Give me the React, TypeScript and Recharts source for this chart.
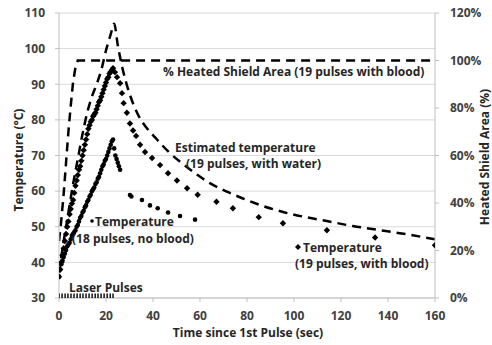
import React from "react";
import { ComposedChart, Line, Scatter, XAxis, YAxis, CartesianGrid } from "recharts";

// time (sec) vs temperature (°C), 19 pulses with blood (diamonds)
const bloodTemp: [number, number][] = [
  [0, 36], [0.5, 38], [1, 40], [1.5, 42], [2, 44], [2.5, 46], [3, 48], [3.5, 50], [4, 51.5], [4.5, 53.5],
  [5, 55], [5.5, 56.5], [6, 57.5], [6.5, 59.5], [7, 61.5], [7.5, 63], [8, 64.5], [8.5, 66], [9, 67], [9.5, 68.5],
  [10, 70], [10.5, 71.5], [11, 73], [11.5, 74.5], [12, 76], [12.5, 77.5], [13, 78.5], [13.5, 79.5], [14, 80],
  [14.5, 81], [15, 81.5], [15.5, 82], [16, 83], [16.5, 84], [17, 85], [17.5, 85.5], [18, 86.5], [18.5, 87.5],
  [19, 88.5], [19.5, 89.5], [20, 90.5], [20.5, 91.5], [21, 92], [21.5, 93], [22, 93.5], [22.5, 94], [23, 94.5],
  [23.8, 93.4], [24.7, 92], [26, 90.3], [26.8, 87.5], [27.5, 84.7], [28.9, 82], [30.2, 79], [31.5, 77],
  [32.8, 75.5], [34.5, 73], [36.6, 71], [39.6, 69.3], [43, 67.3], [46.4, 65], [50.2, 63], [54.5, 60.8],
  [59, 59], [67, 57], [74, 55.2], [85, 52.7], [95.3, 51], [114, 49], [134.5, 47], [160, 44.8],
];

// 18 pulses, no blood (small dots)
const noBloodTemp: [number, number][] = [
  [0, 36], [0.5, 38], [1, 39.5], [1.5, 40.5], [2, 41.5], [2.5, 42.5], [3, 43.5], [3.5, 44.5], [4, 45],
  [4.5, 45.5], [5, 46.5], [5.5, 47.5], [6, 48], [6.5, 48.5], [7, 49], [7.5, 50], [8, 50.5], [8.5, 51.5],
  [9, 52.5], [9.5, 53], [10, 54], [10.5, 54.5], [11, 55.5], [11.5, 56], [12, 57], [12.5, 57.5], [13, 58.5],
  [13.5, 59], [14, 60], [14.5, 60.5], [15, 61], [15.5, 62], [16, 62.5], [16.5, 63.5], [17, 64], [17.5, 65],
  [18, 66], [18.5, 67], [19, 67.5], [19.5, 68.5], [20, 69], [20.5, 70], [21, 71], [21.5, 72], [22, 73],
  [22.5, 74], [23, 74.5], [23.5, 72], [24, 70], [24.5, 69], [25, 68], [25.5, 67], [26, 66],
  [30.2, 58.9], [30.8, 58.5], [35.3, 57.5], [38.7, 56], [42, 55.2], [46.4, 54], [51.5, 53], [57.9, 52],
];

// estimated temperature, 19 pulses with water (dashed)
const waterTemp: [number, number][] = [
  [0, 37], [2, 46], [4, 54], [6, 62], [8, 69], [10, 76], [12, 82], [14, 86.5], [16, 90], [18, 94],
  [20, 99.5], [22, 104], [23.5, 107], [25, 101], [27, 94.5], [29, 89.5], [31, 85.5], [34, 81], [37, 78],
  [41, 75], [47, 70.8], [52, 68], [59, 64.5], [64, 62.3], [72, 59.7], [78, 58], [86, 56], [95, 54.2],
  [105, 52.7], [114, 51.6], [125, 50.2], [135, 49.2], [145, 48.2], [160, 46.5],
];

// % heated shield area (right axis)
const heatedArea: [number, number][] = [
  [0, 24], [1, 33], [2, 44], [3, 57], [4, 70], [5, 81], [6, 91], [7, 97], [8, 100], [160, 100],
];

// laser pulse times (sec)
const pulseTimes = [0, 1.3, 2.6, 3.8, 5.1, 6.4, 7.7, 9, 10.2, 11.5, 12.8, 14.1, 15.4, 16.6, 17.9, 19.2, 20.5, 21.8, 23];

const xTicks = [0, 20, 40, 60, 80, 100, 120, 140, 160];
const tempTicks = [30, 40, 50, 60, 70, 80, 90, 100, 110];
const areaTicks = [0, 20, 40, 60, 80, 100, 120];

const toPts = (arr: [number, number][]) => arr.map(([t, v]) => ({ t, v }));

const FONT = "'Open Sans', Lato, sans-serif";
const TXT = "#262626";
const tickStyle = { fontSize: 12, fontWeight: 700, fill: "#404040", fontFamily: FONT };

const Diamond = (p: any) => {
  const { cx, cy } = p;
  if (cx == null || cy == null) return <g />;
  const s = 3.2;
  return <path d={`M${cx},${cy - s}L${cx + s},${cy}L${cx},${cy + s}L${cx - s},${cy}Z`} fill="#000" />;
};

const Dot = (p: any) => {
  const { cx, cy } = p;
  if (cx == null || cy == null) return <g />;
  return <circle cx={cx} cy={cy} r={2.3} fill="#000" />;
};

const PulseMark = (p: any) => {
  const { cx, cy } = p;
  if (cx == null || cy == null) return <g />;
  return <line x1={cx} x2={cx} y1={cy - 4.5} y2={cy + 4.5} stroke="#111" strokeWidth={1.5} />;
};

const Annotations = () => (
  <svg width={492} height={345} style={{ position: "absolute", left: 0, top: 0, pointerEvents: "none" }}>
    <g fontFamily={FONT} fontWeight={700} fontSize={12} fill={TXT} dominantBaseline="central">
      <text x={163} y={71}>% Heated Shield Area (19 pulses with blood)</text>
      <text x={175} y={147}>Estimated temperature</text>
      <text x={186} y={163}>(19 pulses, with water)</text>
      <circle cx={92} cy={221} r={1.8} fill="#000" />
      <text x={95} y={221}>Temperature</text>
      <text x={72} y={238}>(18 pulses, no blood)</text>
      <path d="M298,244L301,247L298,250L295,247Z" fill="#000" />
      <text x={303} y={247}>Temperature</text>
      <text x={295} y={263}>(19 pulses, with blood)</text>
      <text x={69} y={287}>Laser Pulses</text>
      <text x={248} y={332} textAnchor="middle">Time since 1st Pulse (sec)</text>
      <text x={18} y={160} textAnchor="middle" transform="rotate(-90 18 160)">Temperature (°C)</text>
      <text x={484} y={157} textAnchor="middle" transform="rotate(-90 484 157)">Heated Shield Area (%)</text>
    </g>
  </svg>
);

export default function App() {
  return (
    <div style={{ position: "absolute", left: 0, top: 0, width: 492, height: 345, background: "#fff" }}>
      <ComposedChart width={492} height={345} margin={{ top: 13, right: 0, left: 0, bottom: 0 }}>
        <CartesianGrid yAxisId="left" vertical={false} stroke="#d9d9d9" strokeWidth={1} />
        <XAxis
          dataKey="t"
          type="number"
          domain={[0, 160]}
          ticks={xTicks}
          height={47}
          tick={tickStyle}
          tickSize={4}
          tickMargin={9}
          axisLine={{ stroke: "#bfbfbf" }}
          tickLine={{ stroke: "#bfbfbf" }}
          allowDataOverflow
        />
        <YAxis
          yAxisId="left"
          type="number"
          domain={[30, 110]}
          ticks={tempTicks}
          width={59}
          tick={tickStyle}
          tickSize={4}
          tickMargin={10}
          axisLine={{ stroke: "#bfbfbf" }}
          tickLine={{ stroke: "#bfbfbf" }}
          allowDataOverflow
        />
        <YAxis
          yAxisId="right"
          orientation="right"
          type="number"
          domain={[0, 120]}
          ticks={areaTicks}
          tickFormatter={(v: number) => `${v}%`}
          width={57}
          tick={{ ...tickStyle, textAnchor: "start" }}
          tickSize={4}
          tickMargin={11}
          axisLine={{ stroke: "#bfbfbf" }}
          tickLine={{ stroke: "#bfbfbf" }}
          allowDataOverflow
        />
        <Line
          yAxisId="right"
          data={toPts(heatedArea)}
          dataKey="v"
          type="linear"
          stroke="#000"
          strokeWidth={2.5}
          strokeDasharray="9 6"
          dot={false}
          isAnimationActive={false}
        />
        <Line
          yAxisId="left"
          data={toPts(waterTemp)}
          dataKey="v"
          type="monotone"
          stroke="#000"
          strokeWidth={2.5}
          strokeDasharray="9 6"
          dot={false}
          isAnimationActive={false}
        />
        <Scatter yAxisId="left" data={toPts(bloodTemp)} dataKey="v" shape={Diamond} isAnimationActive={false} />
        <Scatter yAxisId="left" data={toPts(noBloodTemp)} dataKey="v" shape={Dot} isAnimationActive={false} />
        <Scatter
          yAxisId="left"
          data={pulseTimes.map((t) => ({ t, v: 30 }))}
          dataKey="v"
          shape={PulseMark}
          isAnimationActive={false}
        />
      </ComposedChart>
      <Annotations />
    </div>
  );
}
